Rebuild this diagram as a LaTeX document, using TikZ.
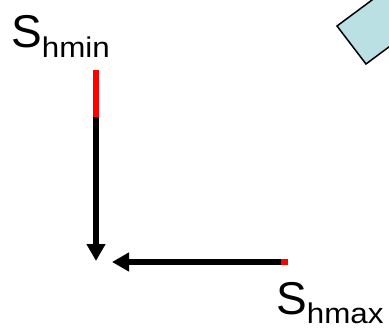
\documentclass[tikz,border=0pt]{standalone}
\usepackage{fontspec}
\setmainfont{Liberation Sans}
\usetikzlibrary{arrows.meta,calc}
\definecolor{boxfill}{HTML}{BAE0E4}
\tikzset{
  stress/.style={line width=6pt},
  stressarrow/.style={line width=6pt,-{Triangle[length=17pt,width=18pt]}},
  lbl/.style={inner sep=0pt,anchor=base west},
}
\newcommand{\stresslabel}[1]{{\fontsize{46}{46}\selectfont S\raisebox{-9.5pt}[0pt][0pt]{\scalebox{1.1}[1]{\fontsize{28.5}{28.5}\selectfont #1}}}}
\begin{document}
\begin{tikzpicture}[x=1pt,y=-1pt]
\useasboundingbox (0,0) rectangle (389,329);
% tilted box (partly visible)
\begin{scope}
\clip (0,0) rectangle (389,329);
\coordinate (ra) at (337,26);
\coordinate (rb) at (366,64);
\draw[fill=boxfill,line width=1.5pt,line join=miter]
  (ra) -- (rb) -- ($(rb)+(140,-104)$) -- ($(ra)+(140,-104)$) -- cycle;
\end{scope}
% labels
\node[lbl] (smin) at (11,48) {\stresslabel{hmin}};
\node[lbl] (smax) at (276,314) {\stresslabel{hmax}};
% vertical arrow
\coordinate (v0) at (96,70);
\coordinate (v1) at (96,117);
\coordinate (v2) at (96,261);
\draw[stress,red] (v0) -- (v1);
\draw[stressarrow] (v1) -- (v2);
% horizontal arrow
\coordinate (h0) at (288,262);
\coordinate (h1) at (281,262);
\coordinate (h2) at (112,262);
\draw[stress,red] (h0) -- (h1);
\draw[stressarrow] (h1) -- (h2);
\end{tikzpicture}
\end{document}
